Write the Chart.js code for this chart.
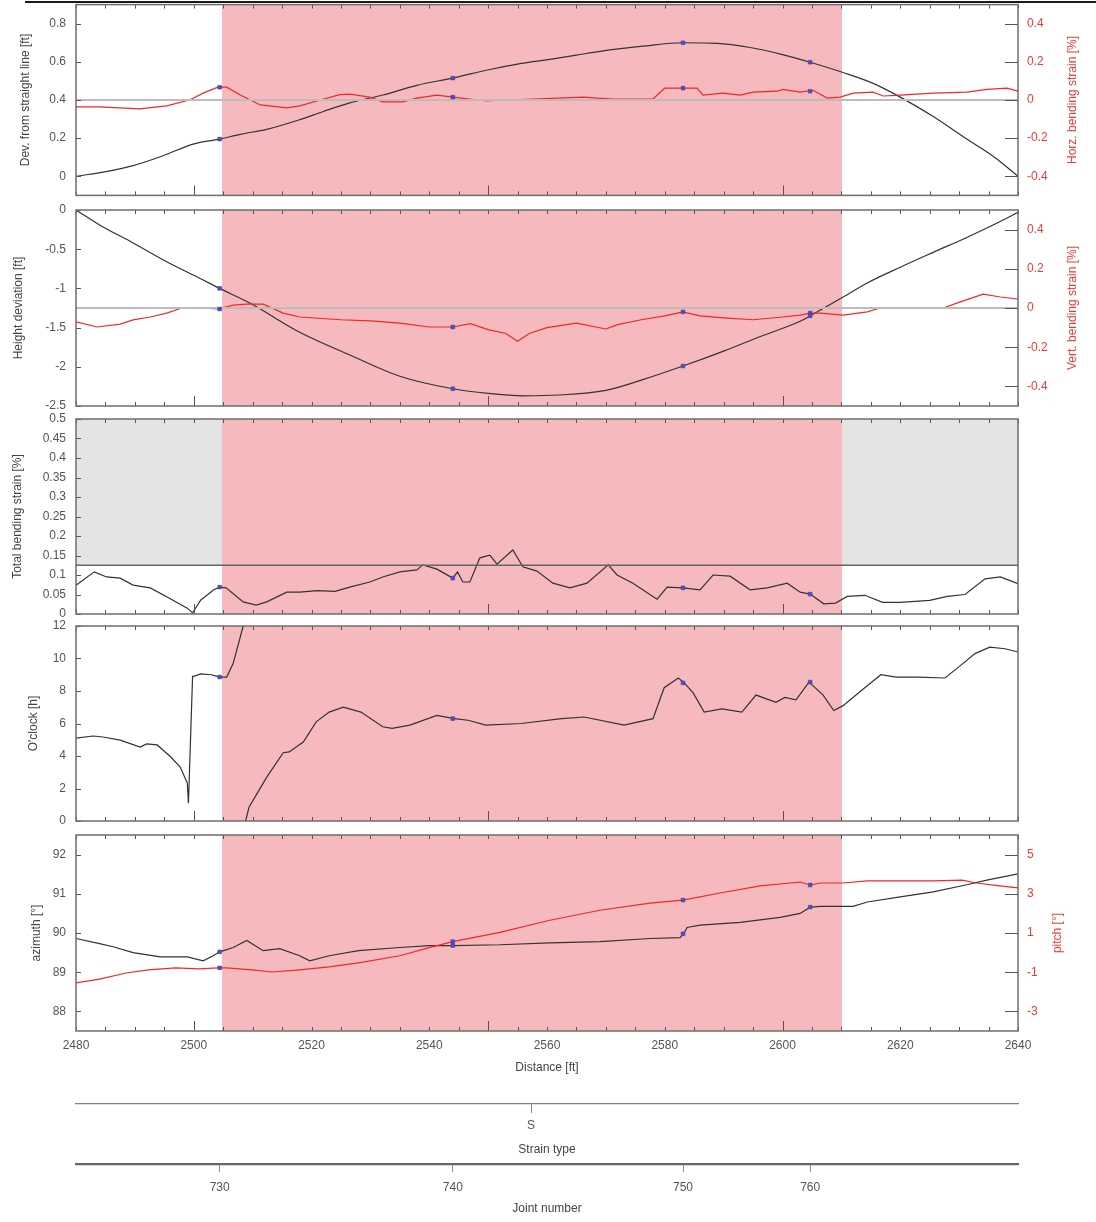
<!DOCTYPE html>
<html>
<head>
<meta charset="utf-8">
<script src="https://cdn.jsdelivr.net/npm/chart.js@4.4.1/dist/chart.umd.min.js"></script>
<style>
html,body{margin:0;padding:0;background:#fff;}
#wrap{position:relative;width:1096px;height:1222px;overflow:hidden;background:#fff;}
#wrap canvas{position:absolute;left:0;}
#topline{position:absolute;left:25px;top:1px;width:1071px;height:2px;background:#1a1a1a;}
</style>
</head>
<body>
<div id="wrap">
  <div id="topline"></div>
  <canvas id="p1" width="1096" height="200" style="top:0px"></canvas>
  <canvas id="p2" width="1096" height="218" style="top:198px"></canvas>
  <canvas id="p3" width="1096" height="215" style="top:409px"></canvas>
  <canvas id="p4" width="1096" height="215" style="top:616px"></canvas>
  <canvas id="p5" width="1096" height="256" style="top:825px"></canvas>
  <canvas id="s1" width="1096" height="66" style="top:1094px"></canvas>
  <canvas id="s2" width="1096" height="68" style="top:1154px"></canvas>
</div>
<script>
// ---------------- DATA ----------------
const X_MIN = 2480, X_MAX = 2640;
const distanceTicks = [2480, 2500, 2520, 2540, 2560, 2580, 2600, 2620, 2640];
const pinkRange = [2504.8, 2610.1];

const jointNumbers = [730, 740, 750, 760];
const jointDist = [2504.4, 2544.0, 2583.1, 2604.7];
const strainTypes = ['S'];
const strainTypeDist = [2557.3];

// Panel 1: deviation from straight line [ft] (left) and horizontal bending strain [%] (right)
const devDist = [2480, 2485.3, 2489.7, 2494.8, 2499.9, 2504.4, 2507.9, 2512.4, 2518, 2522, 2526.5, 2532.1, 2537.9, 2544, 2550.3, 2555, 2560.5, 2565, 2569, 2576.3, 2583.1, 2588.9, 2594.5, 2600, 2604.7, 2610.3, 2615.4, 2620, 2625.6, 2631.3, 2636, 2640];
const devVal  = [0, 0.026, 0.056, 0.108, 0.169, 0.195, 0.22, 0.246, 0.297, 0.34, 0.385, 0.426, 0.477, 0.515, 0.560, 0.588, 0.613, 0.635, 0.655, 0.682, 0.700, 0.697, 0.675, 0.638, 0.598, 0.544, 0.487, 0.415, 0.313, 0.195, 0.10, 0.0];
const devMark = [0.195, 0.515, 0.700, 0.598];

const hzDist = [2480, 2484, 2490.8, 2495.4, 2499.3, 2501.6, 2504.1, 2505.6, 2507.9, 2511.3, 2515.8, 2518, 2521.5, 2524.8, 2526.5, 2529.9, 2532.1, 2535.5, 2537.9, 2541.3, 2544, 2546.9, 2549.8, 2552.5, 2557.6, 2566.1, 2571.2, 2578, 2580, 2583.1, 2585.5, 2586.5, 2589.9, 2592.8, 2595, 2599.1, 2600.1, 2603, 2605.2, 2607.6, 2609.8, 2612, 2615.4, 2617.1, 2620, 2625.6, 2631.3, 2634.7, 2638.1, 2640];
const hzVal  = [-0.036, -0.036, -0.046, -0.031, 0, 0.036, 0.067, 0.067, 0.026, -0.026, -0.041, -0.031, 0.0, 0.028, 0.031, 0.015, -0.01, -0.01, 0.01, 0.026, 0.015, 0.005, -0.005, 0, 0.005, 0.015, 0.005, 0.005, 0.062, 0.062, 0.062, 0.026, 0.036, 0.026, 0.041, 0.046, 0.056, 0.041, 0.051, 0.01, 0.015, 0.036, 0.041, 0.021, 0.026, 0.036, 0.041, 0.056, 0.062, 0.046];
const hzMark = [0.067, 0.015, 0.062, 0.046];

// Panel 2: height deviation [ft] (left) and vertical bending strain [%] (right)
const htDist = [2480, 2484, 2489.7, 2495.4, 2501, 2504.4, 2509.6, 2518, 2526.5, 2535, 2544, 2550, 2556, 2562, 2570, 2576, 2583.1, 2590, 2596, 2603, 2604.7, 2610.3, 2614.4, 2620, 2625.6, 2631.3, 2636.9, 2640];
const htVal  = [0, -0.19, -0.42, -0.66, -0.87, -1.0, -1.19, -1.56, -1.85, -2.12, -2.28, -2.34, -2.37, -2.36, -2.30, -2.17, -1.99, -1.80, -1.62, -1.42, -1.35, -1.11, -0.93, -0.73, -0.54, -0.35, -0.15, -0.03];
const htMark = [-1.0, -2.28, -1.99, -1.35];

const vtDist = [2480, 2483.6, 2487.5, 2489.7, 2492.6, 2495.4, 2498, 2501, 2504.1, 2506.7, 2509, 2511.8, 2515.2, 2518, 2525, 2530, 2535, 2540, 2544, 2547, 2550, 2553, 2555, 2557, 2560, 2565, 2570, 2572, 2576, 2580, 2583.1, 2586, 2590, 2595, 2600, 2603, 2604.7, 2606.5, 2610.3, 2614.4, 2616.6, 2627.3, 2630.2, 2634.1, 2637, 2640];
const vtVal  = [-0.071, -0.097, -0.082, -0.061, -0.046, -0.026, 0, 0, -0.005, 0.015, 0.02, 0.02, -0.026, -0.046, -0.06, -0.066, -0.077, -0.097, -0.097, -0.08, -0.11, -0.13, -0.17, -0.13, -0.10, -0.077, -0.107, -0.085, -0.06, -0.04, -0.02, -0.04, -0.05, -0.06, -0.046, -0.036, -0.026, -0.026, -0.036, -0.02, 0, 0, 0.031, 0.071, 0.056, 0.046];
const vtMark = [-0.005, -0.097, -0.02, -0.026];

// Panel 3: total bending strain [%]
const strainLimit = 0.125;
const tbDist = [2480, 2483.1, 2485.2, 2487.5, 2489.7, 2492.6, 2495.4, 2498.9, 2499.8, 2501.2, 2503.4, 2504.4, 2505.5, 2508.4, 2510.6, 2512.4, 2515.8, 2518, 2521, 2524, 2526.5, 2529.9, 2532.1, 2535, 2537.9, 2538.9, 2541.3, 2544, 2544.8, 2545.7, 2546.9, 2548.6, 2550.3, 2551.5, 2554.2, 2555.9, 2558.3, 2561, 2563.9, 2566.8, 2570.4, 2571.9, 2574.6, 2578.7, 2580.4, 2583.1, 2586, 2588.2, 2591.1, 2594.5, 2597.4, 2600.8, 2603, 2604.7, 2607, 2609, 2611, 2614, 2617, 2620, 2625, 2628, 2631, 2634.4, 2637, 2640];
const tbVal  = [0.074, 0.108, 0.095, 0.092, 0.074, 0.067, 0.044, 0.015, 0.003, 0.036, 0.062, 0.069, 0.067, 0.031, 0.023, 0.031, 0.056, 0.056, 0.06, 0.058, 0.069, 0.082, 0.095, 0.108, 0.113, 0.126, 0.115, 0.092, 0.108, 0.082, 0.082, 0.144, 0.151, 0.128, 0.164, 0.121, 0.110, 0.079, 0.067, 0.079, 0.126, 0.100, 0.079, 0.038, 0.069, 0.067, 0.062, 0.100, 0.097, 0.062, 0.067, 0.079, 0.056, 0.051, 0.026, 0.028, 0.045, 0.048, 0.03, 0.03, 0.035, 0.045, 0.05, 0.09, 0.095, 0.078];
const tbMark = [0.069, 0.092, 0.067, 0.051];

// Panel 4: o'clock [h] (null = wrap-around gap)
const ocDist = [2480, 2482.9, 2484.6, 2487.5, 2490.9, 2492, 2493.8, 2496.1, 2497.7, 2498.9, 2499.1, 2499.8, 2500, 2501.2, 2503, 2504.4, 2505.6, 2506.7, 2508.4, 2508.6, 2508.8, 2509.4, 2510.9, 2512.4, 2515.2, 2516.2, 2518.6, 2520.8, 2523.0, 2525.4, 2528.4, 2532.1, 2533.7, 2536.7, 2541.3, 2544.2, 2546.6, 2549.6, 2555.6, 2562.5, 2566.3, 2573.1, 2578.0, 2579.9, 2582.3, 2583.3, 2584.8, 2586.7, 2589.7, 2593.1, 2595.5, 2598.9, 2600.4, 2602.3, 2604.5, 2606.9, 2608.7, 2610.3, 2613.3, 2616.7, 2619.3, 2623, 2627.6, 2630, 2632.7, 2635.2, 2637.8, 2640];
const ocVal  = [5.1, 5.23, 5.17, 4.98, 4.55, 4.74, 4.68, 3.94, 3.32, 2.34, 1.1, 8.9, 8.9, 9.05, 9.0, 8.86, 8.86, 9.7, 12.0, null, 0.0, 0.86, 1.78, 2.7, 4.2, 4.25, 4.86, 6.1, 6.7, 7.0, 6.7, 5.8, 5.7, 5.9, 6.5, 6.3, 6.2, 5.9, 6.0, 6.3, 6.4, 5.9, 6.3, 8.2, 8.8, 8.5, 7.9, 6.7, 6.9, 6.7, 7.75, 7.3, 7.6, 7.45, 8.55, 7.75, 6.8, 7.1, 8.0, 9.0, 8.85, 8.85, 8.8, 9.5, 10.3, 10.7, 10.6, 10.4];
const ocMark = [8.86, 6.3, 8.5, 8.55];

// Panel 5: azimuth [deg] (left) and pitch [deg] (right)
const azDist = [2480, 2484, 2486.3, 2489.7, 2494.3, 2498.9, 2501.6, 2503.3, 2504.4, 2506.7, 2509, 2511.8, 2514.6, 2518, 2519.7, 2523, 2528, 2535, 2540, 2544, 2552, 2560.5, 2569, 2577.5, 2582.6, 2583.2, 2583.8, 2586, 2592.8, 2599.6, 2603, 2604.7, 2606.5, 2610.3, 2612, 2614.4, 2620, 2625.6, 2631.3, 2634.7, 2640];
const azVal  = [89.86, 89.73, 89.65, 89.5, 89.39, 89.39, 89.29, 89.42, 89.52, 89.63, 89.81, 89.55, 89.6, 89.42, 89.29, 89.42, 89.55, 89.63, 89.68, 89.68, 89.7, 89.75, 89.78, 89.86, 89.88, 89.98, 90.14, 90.2, 90.27, 90.4, 90.5, 90.66, 90.68, 90.68, 90.68, 90.79, 90.92, 91.05, 91.23, 91.35, 91.51];
const azMark = [89.52, 89.68, 89.98, 90.66];

const ptDist = [2480, 2484, 2488.5, 2492.3, 2496.9, 2500.9, 2504.1, 2505.6, 2509.9, 2513.3, 2518, 2523, 2528, 2535, 2540, 2544, 2552, 2560.5, 2569, 2577.5, 2583.1, 2589.4, 2596.2, 2601.3, 2603, 2604.7, 2606.5, 2610.3, 2614.4, 2620, 2625.6, 2630.5, 2632.9, 2636.9, 2640];
const ptVal  = [-1.55, -1.35, -1.04, -0.88, -0.78, -0.83, -0.78, -0.78, -0.88, -0.99, -0.88, -0.73, -0.52, -0.16, 0.25, 0.56, 1.03, 1.65, 2.16, 2.52, 2.68, 3.04, 3.4, 3.55, 3.6, 3.45, 3.55, 3.55, 3.66, 3.66, 3.66, 3.7, 3.55, 3.4, 3.3];
const ptMark = [-0.78, 0.56, 2.68, 3.45];

// tick values
const devTicks = [0, 0.2, 0.4, 0.6, 0.8];
const strainTicks = [-0.4, -0.2, 0, 0.2, 0.4];
const htTicks = [0, -0.5, -1, -1.5, -2, -2.5];
const tbTicks = [0, 0.05, 0.1, 0.15, 0.2, 0.25, 0.3, 0.35, 0.4, 0.45, 0.5];
const ocTicks = [0, 2, 4, 6, 8, 10, 12];
const azTicks = [88, 89, 90, 91, 92];
const ptTicks = [-3, -1, 1, 3, 5];

// ---------------- STYLE ----------------
const FONT = "'Liberation Sans', Arial, sans-serif";
const BLACK = '#333333';
const RED = '#f02828';
const RED_TXT = '#ee3a3a';
const BLUE = '#5050c0';
const PINK = '#f6b9bd';
const GREY_ZONE = '#e4e4e4';
const REF_GREY = '#bcbcbc';
const FRAME = '#6e6e6e';
const TICK_COL = '#555555';
const TITLE_COL = '#444444';

Chart.defaults.font.family = FONT;
Chart.defaults.font.size = 12;
Chart.defaults.color = TICK_COL;

const toXY = (xs, ys) => xs.map((x, i) => ({x: x, y: ys[i]}));
const fmt = v => String(parseFloat(Number(v).toFixed(3)));
const noPad = ax => { ax.paddingTop = 0; ax.paddingBottom = 0; ax.paddingLeft = 0; ax.paddingRight = 0; };

const decor = {
  id: 'decor',
  beforeDatasetsDraw(chart, args, o) {
    if (!o || !o.on) return;
    const {ctx, chartArea: a} = chart;
    const xs = chart.scales.x;
    const p0 = xs.getPixelForValue(pinkRange[0]);
    const p1 = xs.getPixelForValue(pinkRange[1]);
    ctx.save();
    if (o.greyAbove !== undefined && o.greyAbove !== null) {
      const yl = chart.scales.y.getPixelForValue(o.greyAbove);
      ctx.fillStyle = GREY_ZONE;
      ctx.fillRect(a.left, a.top, p0 - a.left, yl - a.top);
      ctx.fillRect(p1, a.top, a.right - p1, yl - a.top);
    }
    ctx.fillStyle = PINK;
    ctx.fillRect(p0, a.top, p1 - p0, a.bottom - a.top);
    ctx.restore();
  },
  afterDraw(chart, args, o) {
    if (!o || !o.on) return;
    const {ctx, chartArea: a} = chart;
    const xs = chart.scales.x, ys = chart.scales.y, y1 = chart.scales.y1;
    ctx.save();
    ctx.strokeStyle = TICK_COL;
    ctx.lineWidth = 1;
    ctx.beginPath();
    for (let v = X_MIN; v <= X_MAX; v += 5) {
      const px = Math.round(xs.getPixelForValue(v)) + 0.5;
      const lb = (v % 50 === 0) ? 10 : 4;
      ctx.moveTo(px, a.bottom); ctx.lineTo(px, a.bottom - lb);
      ctx.moveTo(px, a.top); ctx.lineTo(px, a.top + 4);
    }
    ys.ticks.forEach(t => {
      const py = Math.round(ys.getPixelForValue(t.value)) + 0.5;
      ctx.moveTo(a.left, py); ctx.lineTo(a.left + 5, py);
    });
    if (y1) {
      y1.ticks.forEach(t => {
        const py = Math.round(y1.getPixelForValue(t.value)) + 0.5;
        ctx.moveTo(a.right, py); ctx.lineTo(a.right - 13, py);
      });
    }
    ctx.stroke();
    ctx.strokeStyle = FRAME;
    ctx.lineWidth = 1.5;
    ctx.strokeRect(a.left, a.top, a.right - a.left, a.bottom - a.top);
    if (o.rightTitle) {
      ctx.translate(o.rightTitleX, (a.top + a.bottom) / 2);
      ctx.rotate(-Math.PI / 2);
      ctx.fillStyle = RED_TXT;
      ctx.font = '12px ' + FONT;
      ctx.textAlign = 'center';
      ctx.textBaseline = 'middle';
      ctx.fillText(o.rightTitle, 0, 0);
    }
    ctx.restore();
  }
};
Chart.register(decor);

function lineDS(xs, ys, color, axis, order, smooth) {
  const ds = {data: toXY(xs, ys), yAxisID: axis, borderColor: color, borderWidth: 1.2,
          pointRadius: 0, fill: false, tension: 0, spanGaps: false, order: order};
  if (smooth) ds.cubicInterpolationMode = 'monotone';
  return ds;
}
function markDS(ys, axis) {
  return {data: toXY(jointDist, ys), yAxisID: axis, showLine: false, pointStyle: 'rect',
          pointRadius: 2.6, pointBackgroundColor: BLUE, pointBorderColor: '#3c3ca8',
          pointBorderWidth: 0.6, order: 0};
}
function refDS(val, axis, color, width) {
  return {data: [{x: X_MIN, y: val}, {x: X_MAX, y: val}], yAxisID: axis, borderColor: color,
          borderWidth: width, pointRadius: 0, fill: false, order: 1};
}

function panel(id, cfg) {
  const scales = {
    x: {
      type: 'linear', min: X_MIN, max: X_MAX, display: !!cfg.showX,
      afterBuildTicks: ax => { ax.ticks = distanceTicks.map(v => ({value: v})); },
      ticks: {padding: 7, autoSkip: false, maxRotation: 0, color: TICK_COL, callback: v => String(v)},
      grid: {display: false, drawTicks: false},
      border: {display: false},
      title: {display: !!cfg.showX, text: 'Distance [ft]', color: TITLE_COL, padding: {top: 0, bottom: 6}},
      afterFit: ax => { noPad(ax); if (cfg.showX) ax.height = 50; }
    },
    y: {
      type: 'linear', position: 'left', min: cfg.left.min, max: cfg.left.max,
      afterBuildTicks: ax => { ax.ticks = cfg.left.ticks.map(v => ({value: v})); },
      ticks: {padding: 10, autoSkip: false, color: TICK_COL, callback: v => fmt(v)},
      grid: {display: false, drawTicks: false},
      border: {display: false},
      title: {display: true, text: cfg.left.title, color: TITLE_COL, padding: {top: cfg.left.titlePad, bottom: 0}},
      afterFit: ax => { noPad(ax); ax.width = 76; }
    }
  };
  if (cfg.right) {
    scales.y1 = {
      type: 'linear', position: 'right', min: cfg.right.min, max: cfg.right.max,
      afterBuildTicks: ax => { ax.ticks = cfg.right.ticks.map(v => ({value: v})); },
      ticks: {padding: 9, autoSkip: false, color: RED_TXT, callback: v => fmt(v)},
      grid: {display: false, drawTicks: false},
      border: {display: false},
      afterFit: ax => { noPad(ax); ax.width = 78; }
    };
  }
  return new Chart(document.getElementById(id), {
    type: 'line',
    data: {datasets: cfg.datasets},
    options: {
      animation: false, responsive: false, devicePixelRatio: 1,
      layout: {padding: {left: 0, right: cfg.right ? 0 : 78, top: cfg.padTop, bottom: cfg.padBottom}},
      plugins: {
        legend: {display: false}, tooltip: {enabled: false},
        decor: {on: true, greyAbove: cfg.greyAbove, rightTitle: cfg.right ? cfg.right.title : null,
                rightTitleX: cfg.right ? cfg.right.titleX : 0}
      },
      scales: scales
    }
  });
}

panel('p1', {
  padTop: 3, padBottom: 3,
  left: {min: -0.1, max: 0.9, ticks: devTicks, title: 'Dev. from straight line [ft]', titlePad: 18},
  right: {min: -0.5, max: 0.5, ticks: strainTicks, title: 'Horz. bending strain [%]', titleX: 1073},
  datasets: [markDS(devMark, 'y'), markDS(hzMark, 'y1'), refDS(0, 'y1', REF_GREY, 2),
             lineDS(hzDist, hzVal, RED, 'y1', 2), lineDS(devDist, devVal, BLACK, 'y', 3, true)]
});

panel('p2', {
  padTop: 12, padBottom: 10,
  left: {min: -2.5, max: 0, ticks: htTicks, title: 'Height deviation [ft]', titlePad: 11},
  right: {min: -0.5, max: 0.5, ticks: strainTicks, title: 'Vert. bending strain [%]', titleX: 1073},
  datasets: [markDS(htMark, 'y'), markDS(vtMark, 'y1'), refDS(0, 'y1', REF_GREY, 2),
             lineDS(vtDist, vtVal, RED, 'y1', 2), lineDS(htDist, htVal, BLACK, 'y', 3, true)]
});

panel('p3', {
  padTop: 10, padBottom: 10, greyAbove: strainLimit,
  left: {min: 0, max: 0.5, ticks: tbTicks, title: 'Total bending strain [%]', titlePad: 10},
  right: null,
  datasets: [markDS(tbMark, 'y'), refDS(strainLimit, 'y', '#666666', 1.5),
             lineDS(tbDist, tbVal, BLACK, 'y', 3)]
});

panel('p4', {
  padTop: 10, padBottom: 10,
  left: {min: 0, max: 12, ticks: ocTicks, title: "O'clock [h]", titlePad: 26},
  right: null,
  datasets: [markDS(ocMark, 'y'), lineDS(ocDist, ocVal, BLACK, 'y', 3)]
});

panel('p5', {
  padTop: 10, padBottom: 0, showX: true,
  left: {min: 87.5, max: 92.5, ticks: azTicks, title: 'azimuth [°]', titlePad: 29},
  right: {min: -4, max: 6, ticks: ptTicks, title: 'pitch [°]', titleX: 1058},
  datasets: [markDS(azMark, 'y'), markDS(ptMark, 'y1'),
             lineDS(ptDist, ptVal, RED, 'y1', 2), lineDS(azDist, azVal, BLACK, 'y', 3)]
});

function strip(id, tickDist, tickLabels, title, o) {
  return new Chart(document.getElementById(id), {
    type: 'line',
    data: {datasets: [{data: []}]},
    options: {
      animation: false, responsive: false, devicePixelRatio: 1,
      layout: {padding: {left: 76, right: 78, top: 0, bottom: 0}},
      plugins: {legend: {display: false}, tooltip: {enabled: false}, decor: false},
      scales: {
        x: {
          type: 'linear', min: X_MIN, max: X_MAX, position: 'bottom',
          afterBuildTicks: ax => { ax.ticks = tickDist.map(v => ({value: v})); },
          ticks: {autoSkip: false, maxRotation: 0, padding: o.labelPad, color: TICK_COL,
                  callback: (v, i) => String(tickLabels[i])},
          grid: {display: true, drawOnChartArea: false, drawTicks: true, tickLength: o.tickLen,
                 color: o.tickColor, lineWidth: 1},
          border: {display: true, color: o.lineColor, width: o.lineWidth},
          title: {display: true, text: title, color: TITLE_COL, padding: {top: 0, bottom: o.titlePad}},
          afterFit: ax => { noPad(ax); ax.height = o.h; }
        },
        y: {display: false, min: 0, max: 1}
      }
    }
  });
}

strip('s1', strainTypeDist, strainTypes, 'Strain type',
      {labelPad: 5, tickLen: 9, tickColor: '#888888', lineColor: '#808080', lineWidth: 1.3, titlePad: 3, h: 56});
strip('s2', jointDist, jointNumbers, 'Joint number',
      {labelPad: 8, tickLen: 8, tickColor: '#888888', lineColor: '#666666', lineWidth: 2.2, titlePad: 6, h: 58});
</script>
</body>
</html>
